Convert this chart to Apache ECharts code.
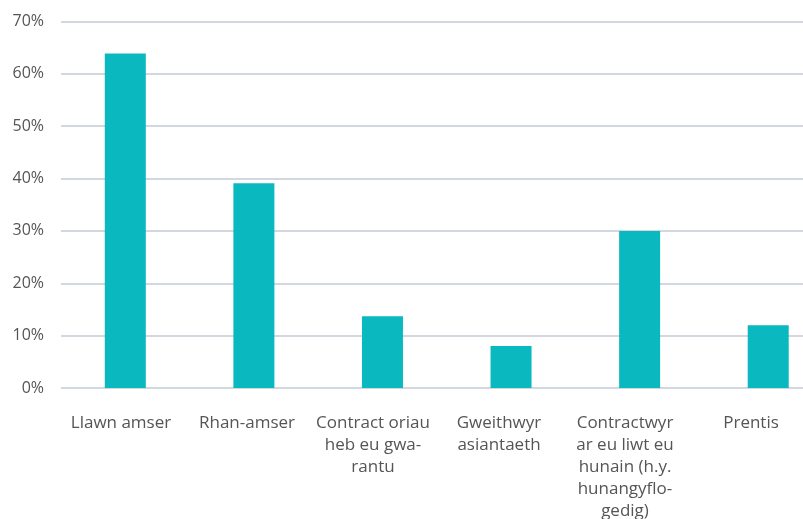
<!DOCTYPE html>
<html>
<head>
<meta charset="utf-8">
<script src="https://cdn.jsdelivr.net/npm/echarts@6/dist/echarts.min.js"></script>
<style>
html,body{margin:0;padding:0;background:#fff;}
#chart{width:803px;height:519px;}
</style>
</head>
<body>
<div id="chart"></div>
<script>
const categories = [
  'Llawn amser',
  'Rhan-amser',
  'Contract oriau\nheb eu gwa-\nrantu',
  'Gweithwyr\nasiantaeth',
  'Contractwyr\nar eu liwt eu\nhunain (h.y.\nhunangyflo-\ngedig)',
  'Prentis'
];
const values = [63.9, 39.1, 13.7, 8.0, 30.0, 12.0];
const yTicks = [0, 10, 20, 30, 40, 50, 60, 70];

const font = '"Open Sans", sans-serif';
const chart = echarts.init(document.getElementById('chart'), null, {renderer: 'canvas'});
chart.setOption({
  animation: false,
  grid: [
    {left: 61, top: 21.5, width: 771.5, height: 366.5, containLabel: false, outerBoundsMode: 'none'},
    {left: 58, top: 21.5, width: 756, height: 366.5, containLabel: false, outerBoundsMode: 'none'}
  ],
  xAxis: [{
    type: 'category',
    gridIndex: 0,
    data: categories,
    axisLine: {show: false},
    axisTick: {show: false},
    axisLabel: {show: false}
  }, {
    type: 'category',
    gridIndex: 1,
    data: categories,
    axisLine: {show: false},
    axisTick: {show: false},
    splitLine: {show: false},
    axisLabel: {
      color: '#555555',
      fontFamily: font,
      fontSize: 17,
      lineHeight: 22,
      margin: 24,
      interval: 0
    }
  }],
  yAxis: [{
    type: 'value',
    gridIndex: 0,
    min: yTicks[0],
    max: yTicks[yTicks.length - 1],
    interval: 10,
    axisLine: {show: false},
    axisTick: {show: false},
    splitLine: {lineStyle: {color: '#c3cad6', width: 1.5}},
    axisLabel: {
      color: '#555555',
      fontFamily: font,
      fontSize: 16,
      margin: 17,
      formatter: v => v + '%'
    }
  }, {
    type: 'value',
    gridIndex: 1,
    min: yTicks[0],
    max: yTicks[yTicks.length - 1],
    show: false
  }],
  series: [{
    type: 'bar',
    xAxisIndex: 0,
    yAxisIndex: 0,
    data: values,
    barWidth: 41,
    itemStyle: {color: '#09b9bf'},
    z: 1
  }, {
    type: 'bar',
    xAxisIndex: 1,
    yAxisIndex: 1,
    data: [],
    silent: true
  }]
});
</script>
</body>
</html>
